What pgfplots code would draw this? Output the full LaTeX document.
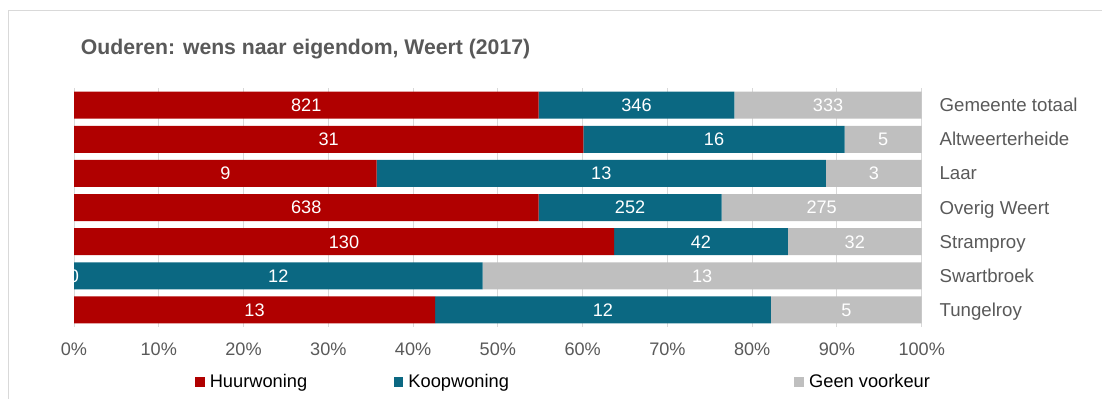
\documentclass[border=0pt]{standalone}
\usepackage{fontspec}
\setmainfont{Liberation Sans}
\usepackage{pgfplots}
\usepackage{pgfplotstable}
\pgfplotsset{compat=1.18}
\definecolor{hred}{HTML}{B00000}
\definecolor{kteal}{HTML}{0B6882}
\definecolor{ggray}{HTML}{BFBFBF}
\definecolor{txt}{HTML}{595959}
\definecolor{gridc}{HTML}{D9D9D9}

\pgfplotstableread{
y h k g hl kl gl
0 54.8 23.1 22.1 821 346 333
1 60.1 30.8 9.1 31 16 5
2 35.7 53.0 11.3 9 13 3
3 54.8 21.6 23.6 638 252 275
4 63.7 20.5 15.8 130 42 32
5 0.0 48.2 51.8 0 12 13
6 42.6 39.6 17.8 13 12 5
}\data

\pgfplotsset{base/.style={
  at={(55.5pt,-245.2pt)}, anchor=south west,
  scale only axis, width=635.8pt, height=179.1pt,
  xmin=0, xmax=100, ymin=-0.5, ymax=6.5, y dir=reverse}}

\begin{document}
\begin{tikzpicture}
\useasboundingbox (0,0) rectangle (826.5pt,-299.25pt);
\draw[gridc, line width=0.75pt] (6.2pt,-300pt) -- (6.2pt,-7.9pt) -- (827pt,-7.9pt);
\node[anchor=base west, font=\bfseries\fontsize{15.9}{18}\selectfont, text=txt, inner sep=0pt] at (60.5pt,-41.25pt) {Ouderen: wens naar eigendom, Weert (2017)};
\begin{axis}[base,
  xbar stacked, bar width=20.25pt,
  xtick={0,10,...,100},
  xticklabels={0\%,10\%,20\%,30\%,40\%,50\%,60\%,70\%,80\%,90\%,100\%},
  xmajorgrids, grid style={gridc, line width=0.75pt},
  ytick={0,...,6},
  yticklabels={Gemeente totaal,Altweerterheide,Laar,Overig Weert,Stramproy,Swartbroek,Tungelroy},
  yticklabel pos=right,
  axis line style={draw=none}, major tick length=0pt,
  tick label style={font=\fontsize{13.6}{16}\selectfont, text=txt, inner sep=0pt},
  yticklabel style={anchor=base west, xshift=13.2pt, yshift=-4.9pt, font=\fontsize{14}{16}\selectfont},
  xticklabel style={anchor=north, yshift=-11.9pt},
  legend columns=3,
  legend image code/.code={\fill[#1] (0pt,-3.6pt) rectangle (7.2pt,3.6pt);},
  legend style={at={(axis description cs:0.1429,-0.2308)}, anchor=west, draw=none, fill=none, inner sep=0pt, outer sep=0pt,
    font=\fontsize{13.7}{16}\selectfont, text=black, column sep=0pt, nodes={inner sep=0pt},
    /tikz/every odd column/.append style={column sep=3.8pt}},
]
\addplot[fill=hred, draw=none] table[x=h, y=y] {\data};
\addlegendentry{\makebox[138pt][l]{Huurwoning}}
\addplot[fill=kteal, draw=none] table[x=k, y=y] {\data};
\addlegendentry{\makebox[289.5pt][l]{Koopwoning}}
\addplot[fill=ggray, draw=none] table[x=g, y=y] {\data};
\addlegendentry{Geen voorkeur}
\end{axis}
\begin{axis}[base, hide axis,
  every node near coord/.append style={font=\fontsize{13.6}{16}\selectfont, text=white, inner sep=0pt, anchor=base, yshift=-4.8pt},
]
\addplot[draw=none, nodes near coords, point meta=explicit symbolic]
  table[x expr=\thisrow{h}/2, y=y, meta=hl] {\data};
\addplot[draw=none, nodes near coords, point meta=explicit symbolic]
  table[x expr=\thisrow{h}+\thisrow{k}/2, y=y, meta=kl] {\data};
\addplot[draw=none, nodes near coords, point meta=explicit symbolic]
  table[x expr=\thisrow{h}+\thisrow{k}+\thisrow{g}/2, y=y, meta=gl] {\data};
\end{axis}
\end{tikzpicture}
\end{document}
